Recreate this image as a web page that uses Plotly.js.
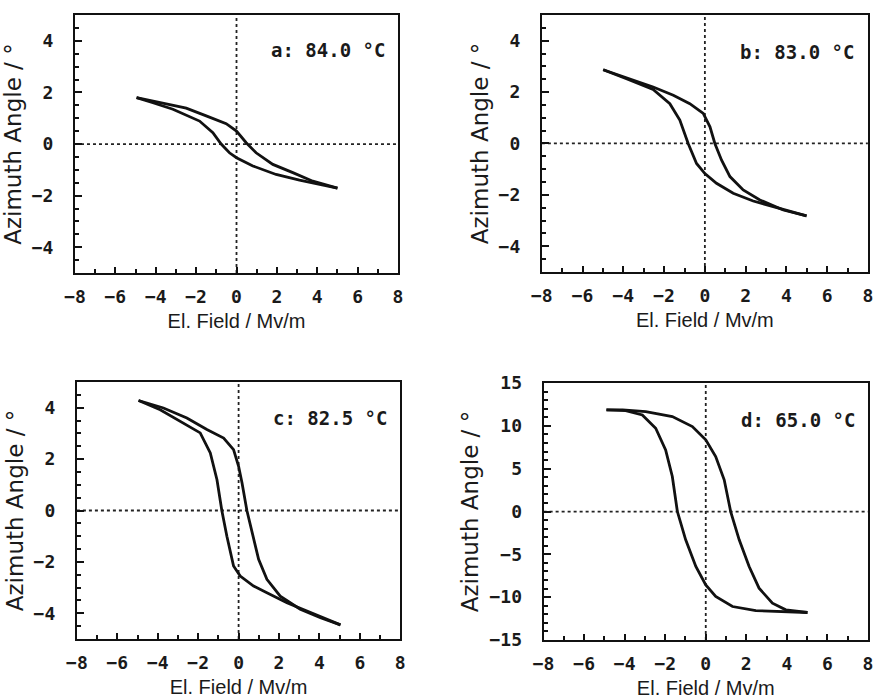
<!DOCTYPE html>
<html>
<head>
<meta charset="utf-8">
<script src="https://cdn.plot.ly/plotly-3.0.1.min.js"></script>
<style>html,body{margin:0;padding:0;background:#fff;}#chart{width:874px;height:699px;}</style>
</head>
<body>
<div id="chart"></div>
<script>
// Panel a: 84.0 °C
const aUpperX = [-4.95, -3.48, -2.49, -1.5, -0.51, 0.0, 0.48, 0.97, 1.8, 2.79, 3.78, 5.0];
const aUpperY = [1.8, 1.57, 1.39, 1.09, 0.79, 0.5, 0.05, -0.34, -0.79, -1.11, -1.44, -1.71];
const aLowerX = [5.0, 4.1, 3.12, 1.96, 0.81, 0.0, -0.35, -0.76, -1.17, -1.83, -3.15, -4.14, -4.95];
const aLowerY = [-1.71, -1.57, -1.4, -1.18, -0.85, -0.53, -0.34, 0.0, 0.44, 0.89, 1.35, 1.6, 1.8];
// Panel b: 83.0 °C
const bUpperX = [-4.99, -3.85, -2.54, -1.55, -0.74, -0.08, 0.25, 0.49, 0.82, 1.23, 1.88, 2.7, 3.85, 4.99];
const bUpperY = [2.87, 2.56, 2.2, 1.88, 1.55, 1.17, 0.65, 0.0, -0.65, -1.29, -1.81, -2.2, -2.59, -2.82];
const bLowerX = [4.99, 3.36, 2.37, 1.39, 0.57, 0.0, -0.41, -0.82, -1.23, -1.72, -2.54, -3.85, -4.99];
const bLowerY = [-2.82, -2.46, -2.24, -1.94, -1.55, -1.17, -0.78, 0.0, 0.91, 1.55, 2.1, 2.52, 2.87];
// Panel c: 82.5 °C
const cUpperX = [-4.95, -3.72, -2.56, -1.57, -0.74, -0.25, 0.0, 0.17, 0.41, 0.66, 0.99, 1.4, 2.06, 3.05, 4.05, 5.04];
const cUpperY = [4.28, 3.99, 3.6, 3.15, 2.82, 2.37, 1.72, 1.07, 0.0, -0.87, -1.9, -2.68, -3.33, -3.84, -4.17, -4.45];
const cLowerX = [5.04, 3.38, 2.39, 1.4, 0.74, 0.08, -0.25, -0.58, -0.83, -1.07, -1.4, -1.9, -2.72, -3.88, -4.95];
const cLowerY = [-4.45, -3.91, -3.59, -3.2, -2.94, -2.55, -2.16, -1.0, 0.0, 1.2, 2.24, 3.02, 3.4, 3.92, 4.28];
// Panel d: 65.0 °C
const dUpperX = [-4.9, -4.1, -2.96, -1.65, -0.66, 0.0, 0.49, 0.91, 1.23, 1.65, 2.14, 2.63, 3.29, 3.95, 5.02];
const dUpperY = [11.87, 11.87, 11.67, 11.09, 9.92, 8.37, 6.42, 3.7, 0.0, -3.3, -6.42, -8.95, -10.7, -11.48, -11.79];
const dLowerX = [5.02, 3.62, 2.47, 1.32, 0.49, 0.0, -0.49, -0.99, -1.4, -1.65, -1.98, -2.47, -3.13, -3.95, -4.9];
const dLowerY = [-11.79, -11.67, -11.56, -11.09, -9.92, -8.56, -6.42, -3.3, 0.0, 4.09, 7.2, 9.73, 11.28, 11.79, 11.87];

const panelLabels = ["a: 84.0 °C", "b: 83.0 °C", "c: 82.5 °C", "d: 65.0 °C"];
const xTitle = "El. Field / Mv/m";
const yTitle = "Azimuth Angle / °";

const series = [
  [aUpperX, aUpperY, aLowerX, aLowerY],
  [bUpperX, bUpperY, bLowerX, bLowerY],
  [cUpperX, cUpperY, cLowerX, cLowerY],
  [dUpperX, dUpperY, dLowerX, dLowerY]
];
const axIds = ["", "2", "3", "4"];

const traces = [];
series.forEach((s, i) => {
  const ax = axIds[i];
  [[s[0], s[1]], [s[2], s[3]]].forEach(br => {
    traces.push({x: br[0], y: br[1], xaxis: "x" + ax, yaxis: "y" + ax, type: "scatter", mode: "lines",
      line: {color: "#111", width: 2.8}, showlegend: false});
  });
});

const mono = {family: "DejaVu Sans Mono", size: 18, color: "#1a1a1a", weight: "bold"};
const xsans = {family: "Liberation Sans, Arial", size: 20, color: "#1a1a1a"};
const ysans = {family: "DejaVu Sans", size: 23, color: "#1a1a1a"};

function xax(dom, anchor) {
  return {domain: dom, anchor: anchor, range: [-8, 8], dtick: 2, tick0: 0, ticks: "inside", ticklen: 6, tickwidth: 2,
    tickcolor: "#111", minor: {dtick: 1, ticks: "inside", ticklen: 4, tickwidth: 2, tickcolor: "#111"},
    showline: true, mirror: true, linecolor: "#111", linewidth: 2, showgrid: false, zeroline: false,
    tickfont: mono, ticklabelstandoff: 6, title: {text: xTitle, font: xsans, standoff: 8}};
}
function yax(dom, anchor, big) {
  return {domain: dom, anchor: anchor, range: big ? [-15, 15] : [-5, 5], dtick: big ? 5 : 2, tick0: 0,
    ticks: "inside", ticklen: 7, tickwidth: 2, tickcolor: "#111",
    minor: {dtick: big ? 1 : 0.5, ticks: "inside", ticklen: 4, tickwidth: 2, tickcolor: "#111"},
    showline: true, mirror: true, linecolor: "#111", linewidth: 2, showgrid: false, zeroline: false,
    tickfont: mono, ticklabelstandoff: 16, title: {text: yTitle, font: ysans, standoff: 4}};
}

const xd = [[0.0858, 0.4554], [0.620, 0.993], [0.088, 0.458], [0.622, 0.993]];
const yd = [[0.6094, 0.9785], [0.611, 0.9785], [0.0858, 0.4535], [0.0844, 0.452]];

const layout = {
  width: 874, height: 699, margin: {l: 0, r: 0, t: 0, b: 0}, showlegend: false,
  xaxis: xax(xd[0], "y"), yaxis: yax(yd[0], "x", false),
  xaxis2: xax(xd[1], "y2"), yaxis2: yax(yd[1], "x2", false),
  xaxis3: xax(xd[2], "y3"), yaxis3: yax(yd[2], "x3", false),
  xaxis4: xax(xd[3], "y4"), yaxis4: yax(yd[3], "x4", true),
  shapes: [], annotations: []
};
const annY = [0.864, 0.857, 0.86, 0.856];
axIds.forEach((ax, i) => {
  layout.shapes.push({type: "line", layer: "below", xref: "x" + ax, yref: "y" + ax + " domain", x0: 0, x1: 0, y0: 0, y1: 1,
    line: {color: "#222", width: 1.8, dash: "dot"}});
  layout.shapes.push({type: "line", layer: "below", xref: "x" + ax + " domain", yref: "y" + ax, x0: 0, x1: 1, y0: 0, y1: 0,
    line: {color: "#222", width: 1.8, dash: "dot"}});
  layout.annotations.push({text: panelLabels[i], xref: "x" + ax + " domain", yref: "y" + ax + " domain",
    x: 0.965, y: annY[i], xanchor: "right", yanchor: "middle", showarrow: false,
    font: {family: "DejaVu Sans Mono", size: 19, color: "#1a1a1a", weight: "bold"}});
});

Plotly.newPlot("chart", traces, layout, {staticPlot: true, displayModeBar: false});
</script>
</body>
</html>
